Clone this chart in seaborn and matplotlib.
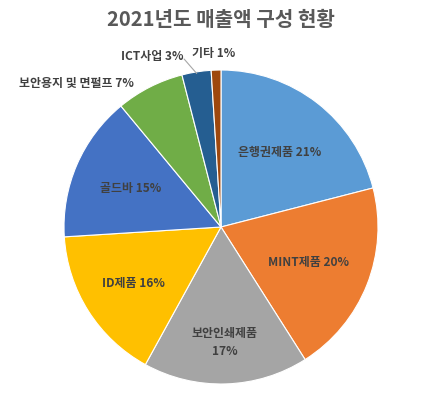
import numpy as np
import matplotlib
matplotlib.use("Agg")
import matplotlib.pyplot as plt
import seaborn as sns

# 2021 revenue composition (%)
categories = ["은행권제품", "MINT제품", "보안인쇄제품", "ID제품", "골드바",
              "보안용지 및 면펄프", "ICT사업", "기타"]
shares = [21, 20, 17, 16, 15, 7, 3, 1]
slice_colors = ["#5B9BD5", "#ED7D31", "#A5A5A5", "#FFC000", "#4472C4",
                "#70AD47", "#255E91", "#9E480E"]

sns.set_style("white")
plt.rcParams["font.family"] = ["Noto Sans CJK KR", "DejaVu Sans"]

W, H = 429, 406
fig = plt.figure(figsize=(W / 100, H / 100), dpi=100)
ax = fig.add_axes([0, 0, 1, 1])

# pie centre / radius in pixels
cx, cy, r = 221, 228, 157

wedges, _ = ax.pie(shares, colors=sns.color_palette(slice_colors),
                   startangle=90, counterclock=False, radius=1,
                   wedgeprops=dict(edgecolor="white", linewidth=0.8))
ax.set_xlim(-cx / r, (W - cx) / r)
ax.set_ylim((cy - H) / r, cy / r)
ax.set_aspect("auto")
ax.axis("off")

txt = "#404040"
fs = 8.6
# inside labels (distance from centre as fraction of radius)
inside = {0: 0.61, 1: 0.60, 2: 0.73, 3: 0.66, 4: 0.63}
for i, d in inside.items():
    w = wedges[i]
    ang = np.deg2rad((w.theta1 + w.theta2) / 2)
    x, y = d * np.cos(ang), d * np.sin(ang)
    if i == 2:
        label = f"{categories[i]}\n{shares[i]}%"
    else:
        label = f"{categories[i]} {shares[i]}%"
    ax.text(x, y, label, ha="center", va="center", fontsize=fs,
            fontweight="semibold", color=txt, linespacing=1.45)

# outside labels
outside = {5: (-0.92, 0.92), 6: (-0.44, 1.09), 7: (-0.05, 1.11)}
for i, (x, y) in outside.items():
    ax.text(x, y, f"{categories[i]} {shares[i]}%", ha="center", va="center",
            fontsize=fs, fontweight="semibold", color=txt)

# leader line for ICT
w = wedges[6]
ang = np.deg2rad((w.theta1 + w.theta2) / 2)
ax.plot([-0.235, np.cos(ang) * 0.99], [1.07, np.sin(ang) * 0.99],
        color="#A6A6A6", linewidth=0.8)

fig.text(cx / W, 1 - 19 / H, "2021년도 매출액 구성 현황", ha="center",
         va="center", fontsize=14.5, fontweight="bold", color="#595959")

fig.savefig("out.png", dpi=100)
